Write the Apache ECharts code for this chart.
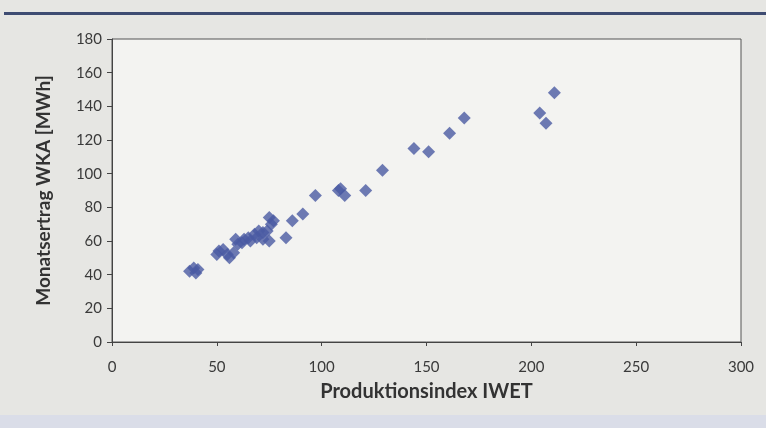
<!DOCTYPE html>
<html>
<head>
<meta charset="utf-8">
<script src="https://cdn.jsdelivr.net/npm/echarts@6/dist/echarts.min.js"></script>
<style>
html,body{margin:0;padding:0;background:#e6e6e3;}
#c{width:766px;height:428px;}
</style>
</head>
<body>
<div id="c"></div>
<script>
// Data
const xValues = [37, 39, 40, 41, 50, 51, 53, 55, 56, 58, 59, 60, 62, 63, 65, 66, 68, 69, 70, 72, 72, 74, 75, 75, 76, 77, 83, 86, 91, 97, 108, 109, 111, 121, 129, 144, 151, 161, 168, 204, 207, 211];
const yValues = [42, 44, 41, 43, 52, 54, 55, 52, 50, 53, 61, 58, 59, 61, 62, 60, 64, 62, 66, 61, 65, 66, 74, 60, 70, 72, 62, 72, 76, 87, 90, 91, 87, 90, 102, 115, 113, 124, 133, 136, 130, 148];
const xTicks = [0, 50, 100, 150, 200, 250, 300];
const yTicks = [0, 20, 40, 60, 80, 100, 120, 140, 160, 180];
const xTitle = 'Produktionsindex IWET';
const yTitle = 'Monatsertrag WKA [MWh]';

const points = xValues.map((x, i) => [x, yValues[i]]);

const chart = echarts.init(document.getElementById('c'), null, {renderer: 'canvas'});
const font = 'Lato, "Open Sans", sans-serif';
chart.setOption({
  backgroundColor: '#e6e6e3',
  animation: false,
  graphic: [
    {type: 'rect', left: 4, top: 12, shape: {width: 762, height: 3}, style: {fill: '#3e4c72'}, silent: true},
    {type: 'rect', left: 0, top: 415, shape: {width: 766, height: 13}, style: {fill: '#dadde8'}, silent: true}
  ],
  grid: {
    left: 112, right: 25, top: 39, bottom: 86,
    show: true, backgroundColor: '#f3f3f1', borderColor: '#555', borderWidth: 1
  },
  xAxis: {
    type: 'value', min: xTicks[0], max: xTicks[xTicks.length - 1], interval: 50,
    name: xTitle, nameLocation: 'middle', nameGap: 40,
    nameTextStyle: {fontFamily: font, fontWeight: 'bold', fontSize: 20, color: '#333'},
    axisLine: {show: true, lineStyle: {color: '#444', width: 1}},
    axisTick: {show: true, length: 4, lineStyle: {color: '#444'}},
    axisLabel: {fontFamily: font, fontSize: 15, color: '#3a3a3a', margin: 18},
    splitLine: {show: false}
  },
  yAxis: {
    type: 'value', min: yTicks[0], max: yTicks[yTicks.length - 1], interval: 20,
    name: yTitle, nameLocation: 'middle', nameGap: 59,
    nameTextStyle: {fontFamily: font, fontWeight: 'bold', fontSize: 19, color: '#333'},
    axisLine: {show: true, lineStyle: {color: '#444', width: 1}},
    axisTick: {show: true, length: 5, lineStyle: {color: '#444'}},
    axisLabel: {fontFamily: font, fontSize: 15, color: '#3a3a3a', margin: 10},
    splitLine: {show: false}
  },
  series: [{
    type: 'scatter',
    symbol: 'diamond',
    symbolSize: 13,
    itemStyle: {color: '#4a5aa3'},
    data: points
  }]
});
</script>
</body>
</html>
